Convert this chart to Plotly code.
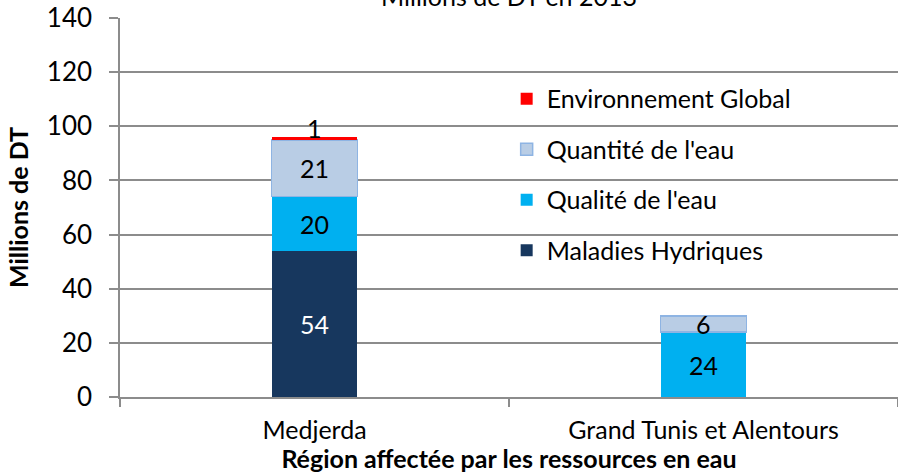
import plotly.graph_objects as go

regions = ["Medjerda", "Grand Tunis et Alentours"]
series_names = ["Maladies Hydriques", "Qualité de l'eau", "Quantité de l'eau", "Environnement Global"]
maladies = [54, 0]
qualite = [20, 24]
quantite = [21, 6]
environnement = [1, 0]
y_ticks = [0, 20, 40, 60, 80, 100, 120, 140]
title_text = "Millions de DT en 2013"

series_values = [maladies, qualite, quantite, environnement]
colors = ["#17375E", "#00B0F0", "#B9CDE5", "#FF0000"]
line_colors = ["#17375E", "#00B0F0", "#8EB4E3", "#FF0000"]
label_colors = ["white", "black", "black", "black"]
FONT = "Lato, Calibri, 'Liberation Sans', sans-serif"
FS = 25

fig = go.Figure()
n = len(series_names)
for i, (name, vals) in enumerate(zip(series_names, series_values)):
    fig.add_trace(go.Bar(
        x=regions, y=vals, name=name, legendgroup=name, legendrank=n - i,
        marker=dict(color=colors[i], line=dict(color=line_colors[i], width=1.5 if i == 2 else 0)),
        hoverinfo="skip",
    ))

# data labels, centered on each segment
annotations = []
cum = [0] * len(regions)
for i, vals in enumerate(series_values):
    for j, v in enumerate(vals):
        if v:
            mid = cum[j] + v / 2
            annotations.append(dict(
                x=regions[j], y=mid, xref="x", yref="y", text=str(v), showarrow=False,
                font=dict(size=FS, color=label_colors[i], family=FONT),
                yshift=10 if v < 3 else 0,
            ))
        cum[j] += v

# chart title (partly cut off by the top edge as in the reference)
annotations.append(dict(
    x=0.5, y=1.058, xref="paper", yref="paper", xanchor="center", yanchor="middle",
    text=title_text, showarrow=False, font=dict(size=FS, family=FONT, color="black"),
))

fig.update_layout(
    width=898, height=473,
    margin=dict(l=120, r=0, t=18, b=76, autoexpand=False),
    paper_bgcolor="white", plot_bgcolor="white",
    barmode="stack", bargap=0.78,
    font=dict(family=FONT, size=FS, color="black"),
    legend=dict(x=0.497, y=0.847, xanchor="left", yanchor="top",
                traceorder="grouped", tracegroupgap=15,
                font=dict(size=FS, family=FONT), bgcolor="rgba(0,0,0,0)"),
    annotations=annotations,
    showlegend=True,
)
fig.update_yaxes(
    range=[0, 140], tickvals=y_ticks, showgrid=True, gridcolor="#8c8c8c", gridwidth=1.5,
    showline=True, linecolor="#8c8c8c", linewidth=1.5, ticks="outside", ticklen=9,
    tickcolor="#8c8c8c", tickwidth=1.5, ticklabelstandoff=12, ticklabeloverflow="allow",
    tickfont=dict(size=26, family=FONT), automargin=False,
    title=dict(text="<b>Millions de DT</b>", font=dict(size=25, family=FONT), standoff=11),
    zeroline=False,
)
fig.update_xaxes(
    showline=True, linecolor="#8c8c8c", linewidth=1.5, ticks="outside", ticklen=8,
    tickcolor="#8c8c8c", tickwidth=1.5, tickson="boundaries", ticklabelstandoff=10,
    tickfont=dict(size=25, family=FONT), automargin=False,
    title=dict(text="<b>Région affectée par les ressources en eau</b>", font=dict(size=25, family=FONT), standoff=2),
)
fig.write_html("out.html", config={"displayModeBar": False},
               post_script="document.body.style.margin='0';")
